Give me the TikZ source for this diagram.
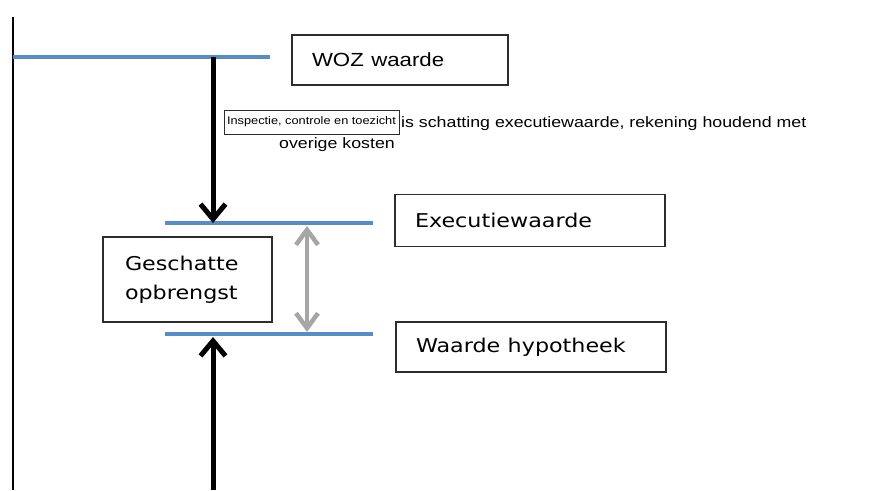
\documentclass[tikz,border=0pt]{standalone}
\usepackage{fontspec}
\setmainfont{Liberation Sans}
\newfontfamily\verd{DejaVu Sans}
\usetikzlibrary{arrows.meta}
\definecolor{lineblue}{RGB}{86,140,200}
\definecolor{arrowgray}{RGB}{166,166,166}
\definecolor{boxline}{RGB}{45,45,45}
\newcommand{\hs}[2][1.17]{\scalebox{#1}[1]{#2}}
\begin{document}
\begin{tikzpicture}[x=1pt,y=-1pt,
  box/.style={draw=boxline, line width=1.4pt, rectangle, inner xsep=20pt, inner ysep=0pt, align=left},
  level/.style={draw=lineblue, line width=4pt},
  bigarrow/.style={draw=black, line width=5pt, -{Straight Barb[length=15pt,width=25pt]}},
  spanarrow/.style={draw=arrowgray, line width=4.5pt, {Straight Barb[length=15pt,width=22pt]}-{Straight Barb[length=15pt,width=22pt]}},
  plain/.style={inner sep=0pt, anchor=base west},
]
\useasboundingbox (0,0) rectangle (870,490);

% coordinates
\coordinate (vtop) at (13,17);
\coordinate (vbot) at (13,490);
\coordinate (l1a) at (13,57);
\coordinate (l1b) at (270,57);
\coordinate (l2a) at (165,223);
\coordinate (l2b) at (373,223);
\coordinate (l3a) at (165,334);
\coordinate (l3b) at (373,334);
\coordinate (a1s) at (213,57);
\coordinate (a1e) at (213,223);
\coordinate (a2s) at (213,490);
\coordinate (a2e) at (213,337);
\coordinate (g1) at (307,226);
\coordinate (g2) at (307,332);

% vertical axis line
\draw[line width=1.3pt] (vtop) -- (vbot);

% level lines
\draw[level] (l1a) -- (l1b);
\draw[level] (l2a) -- (l2b);
\draw[level] (l3a) -- (l3b);

% arrows
\draw[bigarrow] (a1s) -- (a1e);
\draw[bigarrow] (a2s) -- (a2e);
\draw[spanarrow] (g1) -- (g2);

% boxes
\node[box, minimum width=216pt, minimum height=50pt, text width=176pt,
      font=\fontsize{19}{22}\selectfont] (woz) at (400,60) {\hs{WOZ waarde}};
\node[box, minimum width=270pt, minimum height=52pt, text width=230pt,
      font=\verd\fontsize{19}{22}\selectfont] (exec) at (530,220.5) {\hs{Executiewaarde}};
\node[box, minimum width=270pt, minimum height=50pt, text width=230pt,
      font=\verd\fontsize{19}{22}\selectfont] (hyp) at (531,347) {\hs{Waarde hypotheek}};
\node[box, inner xsep=22pt, minimum width=169pt, minimum height=85pt, text width=125pt,
      font=\verd\fontsize{19}{29}\selectfont] (geschat) at (187.5,279.5) {\hs{Geschatte}\\\hs{opbrengst}};

% small label box
\node[draw=boxline, line width=1pt, minimum width=175pt, minimum height=24pt, inner sep=0pt,
      font=\fontsize{11}{13}\selectfont] (insp) at (311.5,122) {\hs[1.16]{Inspectie, controle en toezicht}};

% explanatory text
\node[plain, font=\fontsize{15}{18}\selectfont] (t1) at (401,127) {\hs[1.185]{is schatting executiewaarde, rekening houdend met}};
\node[plain, font=\fontsize{15}{18}\selectfont] (t2) at (279,148) {\hs[1.185]{overige kosten}};
\end{tikzpicture}
\end{document}
